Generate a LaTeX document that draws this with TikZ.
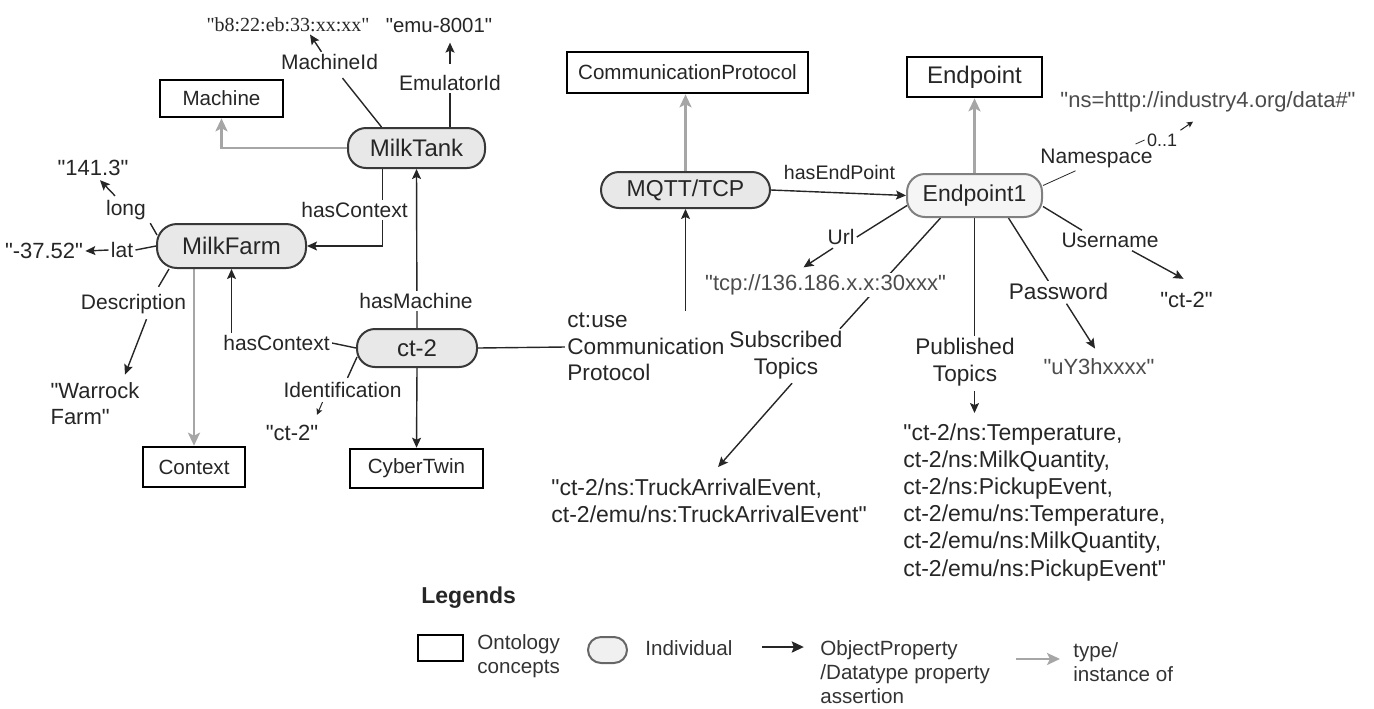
\documentclass[tikz,border=0pt]{standalone}
\usepackage{fontspec}
\setmainfont{Liberation Sans}[Ligatures=TeXOff]
\newfontfamily\macfont{Liberation Serif}[Ligatures=TeXOff]
\usetikzlibrary{arrows.meta,calc,backgrounds}
\newcommand\indivfont{\fontsize{12}{14}\selectfont}
\newcommand\mqttfont{\fontsize{11.5}{13}\selectfont}
\newcommand\conceptfont{\fontsize{10.3}{12}\selectfont}
\newcommand\labelfont{\fontsize{10.5}{12.5}\selectfont}
\newcommand\biglabelfont{\fontsize{11.3}{13.3}\selectfont}
\newcommand\valuefont{\fontsize{11}{13}\selectfont}
\newcommand\topicfont{\fontsize{11.5}{13.6}\selectfont}
\newcommand\legendfont{\fontsize{10.3}{12}\selectfont}

\begin{document}
\begin{tikzpicture}[x=0.5pt, y=-0.5pt,
    every node/.style={text=black!85, inner sep=1pt},
    concept/.style={draw=black, line width=1.3pt, fill=white, font=\conceptfont, minimum height=20pt, inner sep=2pt},
    indiv/.style={draw=black!78, line width=1pt, fill=black!9, rounded corners=9pt, font=\indivfont, minimum height=20pt},
    endpt/.style={indiv, draw=black!50, fill=black!4},
    lbl/.style={font=\labelfont, fill=white},
    biglbl/.style={font=\biglabelfont, fill=white, align=center},
    val/.style={font=\valuefont, fill=white},
    link/.style={draw=black!85, line width=0.7pt},
    obj/.style={link, -{Stealth[length=5pt,width=4.5pt,inset=1pt]}},
    tinyobj/.style={draw=black!85, line width=0.5pt, -{Stealth[length=3pt,width=3pt,inset=0.6pt]}},
    typ/.style={draw=black!35, line width=1.4pt, -{Stealth[length=6.5pt,width=6pt,inset=1.5pt]}}]
    \useasboundingbox (0,0) rectangle (1374,708);

    \node[concept, minimum width=61.5pt, minimum height=18.5pt] (Machine) at (221.5,98.5) {Machine};
    \node[concept, minimum width=51pt] (Context) at (194,467) {Context};
    \node[concept, minimum width=66.5pt, minimum height=19.5pt] (CyberTwin) at (416.5,468.5) {CyberTwin};
    \node[concept, minimum width=120.5pt, minimum height=20.5pt] (CommProtocol) at (687.5,72.5) {CommunicationProtocol};
    \node[concept, minimum width=67.5pt, font=\indivfont] (Endpoint) at (974.5,77) {Endpoint};

    \node[indiv, minimum width=68.5pt] (MilkTank) at (416.5,148) {MilkTank};
    \node[indiv, minimum width=74.5pt, minimum height=22pt, rounded corners=10pt] (MilkFarm) at (231.5,246) {MilkFarm};
    \node[indiv, minimum width=60pt, minimum height=19pt] (ct2) at (417,348) {ct-2};
    \node[indiv, minimum width=84.5pt, minimum height=18pt, font=\mqttfont] (MQTT) at (685.5,190) {MQTT/TCP};
    \node[endpt, minimum width=67.5pt, minimum height=21.5pt, font=\mqttfont] (Endpoint1) at (974.5,195.5) {Endpoint1};

    \node[lbl] (machineIdLbl) at (329.5,62) {MachineId};
    \node[lbl] (emulatorIdLbl) at (450,83) {EmulatorId};
    \node[lbl] (hasContextA) at (354.5,210) {hasContext};
    \node[lbl] (hasMachineLbl) at (416,301) {hasMachine};
    \node[lbl] (hasContextB) at (276.5,343) {hasContext};
    \node[lbl] (longLbl) at (126,210) {long};
    \node[lbl] (latLbl) at (122,250) {lat};
    \node[lbl] (descLbl) at (133.5,304) {Description};
    \node[lbl] (identLbl) at (342.5,390) {Identification};
    \node[biglbl, anchor=west, align=left] (useCPLbl) at (565,347) {ct:use\\Communication\\Protocol};
    \node[lbl, font=\fontsize{9.8}{12}\selectfont] (hasEPLbl) at (839.5,172) {hasEndPoint};
    \node[lbl] (urlLbl) at (841,237) {Url};
    \node[biglbl] (subLbl) at (786,355) {Subscribed\\Topics};
    \node[biglbl] (pubLbl) at (965,362) {Published\\Topics};
    \node[biglbl] (passLbl) at (1058.5,291) {Password};
    \node[lbl] (userLbl) at (1110,240) {Username};
    \node[lbl] (nsLbl) at (1096.5,158) {Namespace};
    \node[lbl, font=\fontsize{9}{10}\selectfont, fill=none] (multLbl) at (1162,140) {0..1};

    \node[val, font=\macfont\fontsize{10}{12}\selectfont] (macVal) at (288,25) {"b8:22:eb:33:xx:xx"};
    \node[val, font=\fontsize{10.2}{12}\selectfont] (emuVal) at (439,25) {"emu-8001"};
    \node[val] (longVal) at (93,168) {"141.3"};
    \node[val] (latVal) at (44,251) {"-37.52"};
    \node[val, align=left] (descVal) at (95,404) {"Warrock\\Farm"};
    \node[val] (identVal) at (292,433) {"ct-2"};
    \node[val, text=black!70] (urlVal) at (825.5,285) {"tcp://136.186.x.x:30xxx"};
    \node[val, text=black!70] (nsVal) at (1208,102) {"ns=http://industry4.org/data\#"};
    \node[val] (userVal) at (1186.5,300) {"ct-2"};
    \node[val, text=black!70] (passVal) at (1099,367) {"uY3hxxxx"};
    \node[val, font=\topicfont, align=left, anchor=north west] (subVal) at (549,476) {"ct-2/ns:TruckArrivalEvent,\\ct-2/emu/ns:TruckArrivalEvent"};
    \node[val, font=\topicfont, align=left, anchor=north west] (pubVal) at (901,421) {"ct-2/ns:Temperature,\\ct-2/ns:MilkQuantity,\\ct-2/ns:PickupEvent,\\ct-2/emu/ns:Temperature,\\ct-2/emu/ns:MilkQuantity,\\ct-2/emu/ns:PickupEvent"};

    \begin{pgfonlayer}{background}
    \draw[typ] (MilkTank.west) -| (Machine.south);
    \draw[typ] (Context.north |- MilkFarm.south) -- (Context.north);
    \draw[typ] (MQTT.north) -- (MQTT.north |- CommProtocol.south);
    \draw[typ] (Endpoint1.north) -- (Endpoint.south);

    \draw[link] ($(MilkTank.north)+(-35,0)$) -- ($(machineIdLbl.south)+(13,6)$);
    \draw[obj] ($(machineIdLbl.north)+(-8,0)$) -- ($(macVal.south)+(22,0)$);
    \draw[link] (MilkTank.north -| emulatorIdLbl.south) -- (emulatorIdLbl.south);
    \draw[obj] ($(emulatorIdLbl.north)+(0,-9)$) -- ($(emuVal.south)+(11,8)$);
    \draw[obj] ($(MilkTank.south)+(-34,0)$) |- (MilkFarm.east);
    \draw[obj] (ct2.north) -- (MilkTank.south);
    \draw[link] (ct2.west) -- (hasContextB.east);
    \draw[obj] (hasContextB.north -| MilkFarm.south) -- (MilkFarm.south);
    \draw[obj] (ct2.south) -- (CyberTwin.north);
    \draw[link] ($(ct2.west)+(1,9)$) -- ($(identLbl.north)+(5,-2)$);
    \draw[tinyobj] ($(identLbl.south)+(-20,2)$) -- ($(identVal.north)+(25,-8)$);

    \draw[link] ($(MilkFarm.west)+(1,-11)$) -- ($(longLbl.south east)+(2,1)$);
    \draw[obj] ($(longLbl.north)+(-11,-2)$) -- ($(longVal.south)+(7,2)$);
    \draw[link] (MilkFarm.west) -- (latLbl.east);
    \draw[obj] (latLbl.west) -- (latVal.east);
    \draw[link] ($(MilkFarm.south west)+(13,0)$) -- ($(descLbl.north)+(25,-5)$);
    \draw[obj] ($(descLbl.south)+(13,3)$) -- ($(descVal.north)+(30,-6)$);

    \draw[link] (ct2.east) -- (useCPLbl.west);
    \draw[obj] ($(useCPLbl.west -| MQTT.south)+(0,-15)$) -- (MQTT.south);
    \draw[obj] (MQTT.east) -- (Endpoint1.west);

    \draw[link] ($(Endpoint1.west)+(1,10)$) -- (urlLbl.east);
    \draw[obj] ($(urlLbl.south)+(-8,1)$) -- ($(urlVal.north)+(-22,-5)$);
    \draw[link] ($(Endpoint1.south)+(-34,0)$) -- ($(subLbl.north)+(54,0)$);
    \draw[obj] ($(subLbl.south)+(6,2)$) -- ($(subVal.north)+(9,-9)$);
    \draw[link] (Endpoint1.south) -- (pubLbl.north -| Endpoint1.south);
    \draw[obj] ($(pubLbl.south -| Endpoint1.south)+(0,3)$) -- ($(pubVal.north -| Endpoint1.south)+(0,-8)$);
    \draw[link] ($(Endpoint1.south)+(34,0)$) -- ($(passLbl.north)+(-10,1)$);
    \draw[obj] ($(passLbl.south)+(8,2)$) -- ($(passVal.north)+(-4,-8)$);
    \draw[link] ($(Endpoint1.east)+(0,11)$) -- ($(userLbl.north)+(-28,0)$);
    \draw[obj] ($(userLbl.south)+(22,1)$) -- ($(userVal.north)+(-3,-11)$);
    \draw[draw=black!85, line width=0.4pt] ($(Endpoint1.east)+(0,-10)$) -- ($(nsLbl.south)+(-21,1)$);
    \draw[draw=black!85, line width=0.4pt] ($(multLbl.west)+(-9,4)$) -- (multLbl.west);
    \draw[tinyobj] ($(multLbl.north east)+(1,-1)$) -- ($(nsVal.south)+(-15,7)$);
    \end{pgfonlayer}

    \node[anchor=west, font=\fontsize{11.5}{13}\selectfont\bfseries] (legendTitle) at (419,598) {Legends};
    \node[concept, minimum width=22.5pt, minimum height=13pt] (legConcept) at (440.5,648) {};
    \node[anchor=west, align=left, font=\legendfont, text=black!80] (legConceptTxt) at (475,656) {Ontology\\concepts};
    \node[indiv, minimum width=19.5pt, minimum height=13pt, rounded corners=6.5pt, draw=black!60, fill=black!6] (legIndiv) at (607.5,650) {};
    \node[anchor=west, font=\legendfont, text=black!80] (legIndivTxt) at (643,648) {Individual};
    \node[anchor=north west, align=left, font=\legendfont, text=black!80] (legObjTxt) at (818,638) {ObjectProperty\\/Datatype property\\assertion};
    \node[anchor=north west, align=left, font=\legendfont, text=black!80] (legTypTxt) at (1071,640) {type/\\instance of};
    \draw[line width=1.3pt, draw=black!85, -{Stealth[length=6pt,width=5.5pt,inset=1pt]}] ($(legIndivTxt.east)+(27,-1)$) -- ++(42,0);
    \draw[typ] ($(legTypTxt.west)+(-55,-3)$) -- ++(44,0);
\end{tikzpicture}
\end{document}
